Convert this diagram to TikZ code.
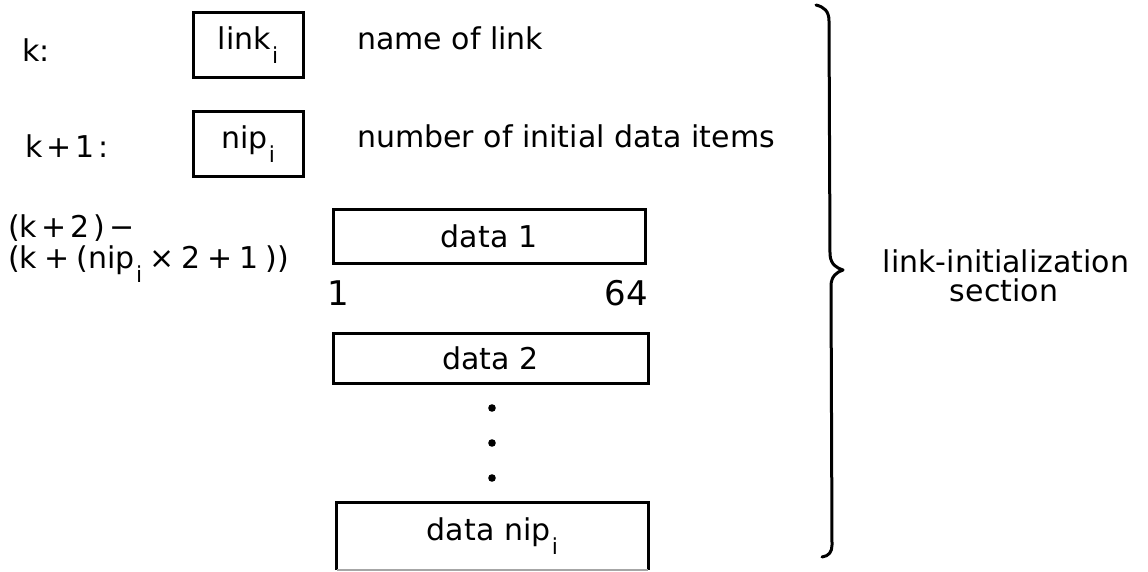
\documentclass[tikz,border=0pt]{standalone}
\usepackage{fontspec}
\setmainfont{DejaVu Sans}
\newcommand\subi{\hspace{1.5pt}\raisebox{-14pt}{\fontsize{22}{22}\selectfont i}}
\newcommand\gp{\hspace{4pt}}
\newcommand\gq{\hspace{7pt}}
\begin{document}
\begin{tikzpicture}[x=1pt,y=-1pt,
  txt/.style={font=\fontsize{30}{34}\selectfont, inner sep=0pt, anchor=base west},
  num/.style={font=\fontsize{34}{38}\selectfont, inner sep=0pt, anchor=base west},
  cell/.style={draw, line width=3pt, inner sep=0pt, font=\fontsize{30}{34}\selectfont},
  dotmark/.style={fill=black},
  bracepath/.style={line width=3pt, line cap=round, line join=round}]
\fill[white] (0,0) rectangle (1148,572);
\useasboundingbox (0,0) rectangle (1148,572);

% row k
\node[txt] (lk) at (22,62) {k:};
\node[cell, minimum width=110pt, minimum height=65pt] (link) at (248,45.5) {link\subi};
\node[txt] (dlink) at (357,50) {name of link};

% row k+1
\node[txt] (lk1) at (25,158) {k\gp+\gp1\gp:};
\node[cell, minimum width=110pt, minimum height=65pt] (nip) at (248,144.5) {nip\subi};
\node[txt] (dnip) at (357,148) {number of initial data items};

% range label
\node[txt] (r1) at (8,237) {(k\gp+\gp2\gp)\gp−};
\node[txt] (r2) at (8,268) {(k\gq+\gq(nip\subi\gq×\gq2\gq+\gq1\gq))};

% data boxes
\node[cell, minimum width=312pt, minimum height=53pt] (d1) at (489,236.5) {data 1};
\node[num] (b1) at (327,305) {1};
\node[num, anchor=base east] (b64) at (648,305) {64};
\node[cell, minimum width=315pt, minimum height=50pt] (d2) at (490.5,358) {data 2};

\fill[dotmark] (492,408) circle (3.8pt);
\fill[dotmark] (492,443) circle (3.8pt);
\fill[dotmark] (492,478) circle (3.8pt);

\node[inner sep=0pt, minimum width=311pt, minimum height=67pt, font=\fontsize{30}{34}\selectfont] (dn) at (492.5,536.5) {data nip\subi};
\draw[line width=3pt] (dn.south west) -- (dn.north west) -- (dn.north east) -- (dn.south east);
\draw[line width=1.5pt, black!35] (dn.south west) -- (dn.south east);

% brace
\coordinate (bt) at (816,5);
\coordinate (bm) at (843,270);
\coordinate (bb) at (822,557);
\draw[bracepath] (bt) .. controls (824,7) and (829,11) .. (829,21) -- (830,255)
  .. controls (831,265) and (837,268) .. (bm)
  .. controls (837,272) and (831,276) .. (831,286) -- (832,545)
  .. controls (832,552) and (829,556) .. (bb);

\node[txt, anchor=base] (s1) at (1006,272) {link-initialization};
\node[txt, anchor=base] (s2) at (1004,301) {section};
\end{tikzpicture}
\end{document}
